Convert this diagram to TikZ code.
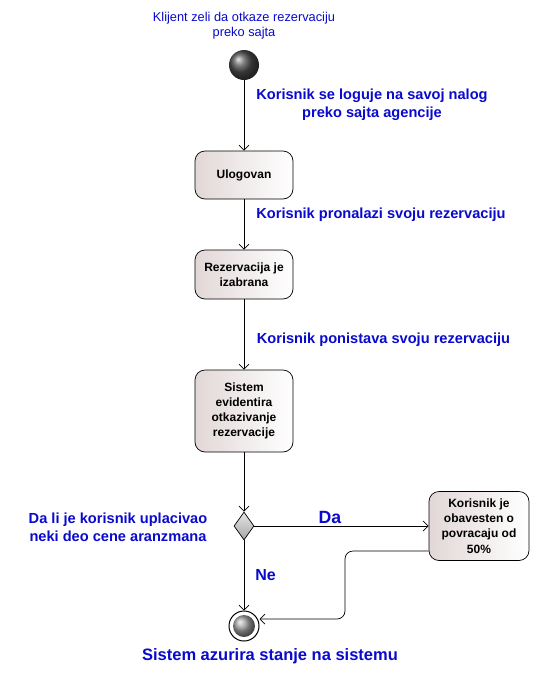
\documentclass[tikz,border=0pt]{standalone}
\usepackage{fontspec}
\setmainfont{Liberation Sans}
\usetikzlibrary{arrows.meta,shapes.geometric,shadings}
\definecolor{lblue}{RGB}{10,10,205}
\definecolor{boxl}{RGB}{226,215,215}
\begin{document}
\begin{tikzpicture}[x=1pt,y=-1pt,
  act/.style={draw,line width=0.7pt,rounded corners=10pt,minimum width=98pt,inner sep=0pt,
    left color=boxl,right color=white,align=center,
    font=\fontsize{12}{15.2}\selectfont\bfseries},
  lbl/.style={text=lblue,align=center,inner sep=0pt,font=\fontsize{12.8}{15}\selectfont},
  blbl/.style={text=lblue,align=center,inner sep=0pt,font=\fontsize{14.6}{17.5}\selectfont\bfseries},
  arr/.style={draw,line width=0.7pt,-{Straight Barb[length=5pt,width=10pt,line width=0.7pt]}}]
\useasboundingbox (0,0) rectangle (539,686);
\fill[white] (0,0) rectangle (539,686);
% nodes
\node[lbl] (t0) at (244,26) {Klijent zeli da otkaze rezervaciju\\preko sajta};
\node[circle,minimum size=30pt,inner sep=0pt,ball color=black!70] (init) at (244,65) {};
\node[act,minimum height=48pt] (ulog) at (244,175) {Ulogovan};
\node[act,minimum height=49pt] (rez) at (244,274.5) {Rezervacija je\\izabrana};
\node[act,minimum height=82pt] (sis) at (244,411) {Sistem\\evidentira\\otkazivanje\\rezervacije};
\node[diamond,draw,line width=0.7pt,minimum width=20pt,minimum height=28pt,inner sep=0pt,aspect=0.7,
  top color=gray!20,bottom color=gray!70] (dec) at (244,526) {};
\node[act,minimum width=100pt,minimum height=69pt] (kor) at (479,526) {Korisnik je\\obavesten o\\povracaju od\\50\%};
\node[circle,draw,line width=1pt,minimum size=30pt,inner sep=0pt,fill=white] (fin) at (244,626) {};
\shade[ball color=gray!75] (fin.center) circle (11pt);
% labels
\node[blbl] (l1) at (372,105) {Korisnik se loguje na savoj nalog\\preko sajta agencije};
\node[blbl] (l2) at (381,215) {Korisnik pronalazi svoju rezervaciju};
\node[blbl] (l3) at (383.5,340) {Korisnik ponistava svoju rezervaciju};
\node[blbl,font=\fontsize{14.6}{18}\selectfont\bfseries] (q) at (118,527) {Da li je korisnik uplacivao\\neki deo cene aranzmana};
\node[blbl,font=\fontsize{17.7}{20}\selectfont\bfseries] (da) at (330,517) {Da};
\node[blbl,font=\fontsize{16}{18}\selectfont\bfseries] (ne) at (265.5,575) {Ne};
\node[blbl,font=\fontsize{16.5}{19}\selectfont\bfseries] (endl) at (270,656) {Sistem azurira stanje na sistemu};
% connectors
\draw[arr] (init) -- (ulog);
\draw[arr] (ulog) -- (rez);
\draw[arr] (rez) -- (sis);
\draw[arr] (sis) -- (dec);
\draw[arr] (dec) -- (kor);
\draw[arr] (dec) -- (fin);
\coordinate (jog) at (345,580);
\draw[arr,rounded corners=8pt] ([yshift=-25pt]kor.west) -| (jog) |- ([yshift=7pt]fin.east);
\end{tikzpicture}
\end{document}
